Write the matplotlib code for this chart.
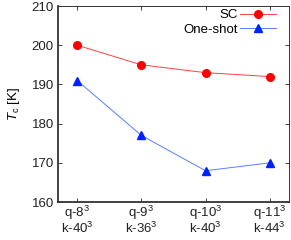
import numpy as np
import matplotlib
matplotlib.use("Agg")
import matplotlib.pyplot as plt

# =========================================================
# Data
# =========================================================
x_labels = ["q-8$^3$\nk-40$^3$", "q-9$^3$\nk-36$^3$",
            "q-10$^3$\nk-40$^3$", "q-11$^3$\nk-44$^3$"]
tc_sc = [200, 195, 193, 192]
tc_oneshot = [191, 177, 168, 170]

plt.rcParams["font.family"] = "Liberation Sans"
plt.rcParams["mathtext.fontset"] = "custom"
plt.rcParams["mathtext.rm"] = "Liberation Sans"
plt.rcParams["mathtext.it"] = "Liberation Sans:italic"

FS = 9.5
x = np.arange(1, len(x_labels) + 1)

fig = plt.figure(figsize=(2.91, 2.40), dpi=100)
ax = fig.add_axes([0.199, 0.158, 0.794, 0.817])

ax.plot(x, tc_sc, color="#ff4040", linewidth=0.7, marker="o",
        markersize=5.5, markerfacecolor="#ff0000", markeredgecolor="#ff0000",
        label="SC")
ax.plot(x, tc_oneshot, color="#5a7fff", linewidth=0.7, marker="^",
        markersize=5.5, markerfacecolor="#0022ff", markeredgecolor="#0022ff",
        label="One-shot")

ax.set_xlim(0.7, 4.3)
ax.set_ylim(160, 210)
ax.set_xticks(x)
ax.set_xticklabels(x_labels, fontsize=FS, linespacing=0.92)
ax.set_yticks([160, 170, 180, 190, 200, 210])
ax.tick_params(axis="both", direction="in", length=3, width=0.6,
               top=True, right=True, labelsize=FS, pad=3, colors="#222222")
ax.tick_params(axis="x", pad=1)

for side in ["left", "bottom"]:
    ax.spines[side].set_linewidth(1.3)
    ax.spines[side].set_color("#333333")
for side in ["top", "right"]:
    ax.spines[side].set_linewidth(0.7)
    ax.spines[side].set_color("#333333")

ax.set_ylabel(r"$T_{\mathrm{c}}$ [K]", fontsize=FS, labelpad=7)

ax.legend(loc="upper right", bbox_to_anchor=(276 / 291, 231 / 240),
          bbox_transform=fig.transFigure, frameon=False, markerfirst=False,
          fontsize=FS, handlelength=2.7, handletextpad=0.2,
          labelspacing=0.2, borderpad=0, borderaxespad=0)

fig.savefig("out.png", dpi=100)
